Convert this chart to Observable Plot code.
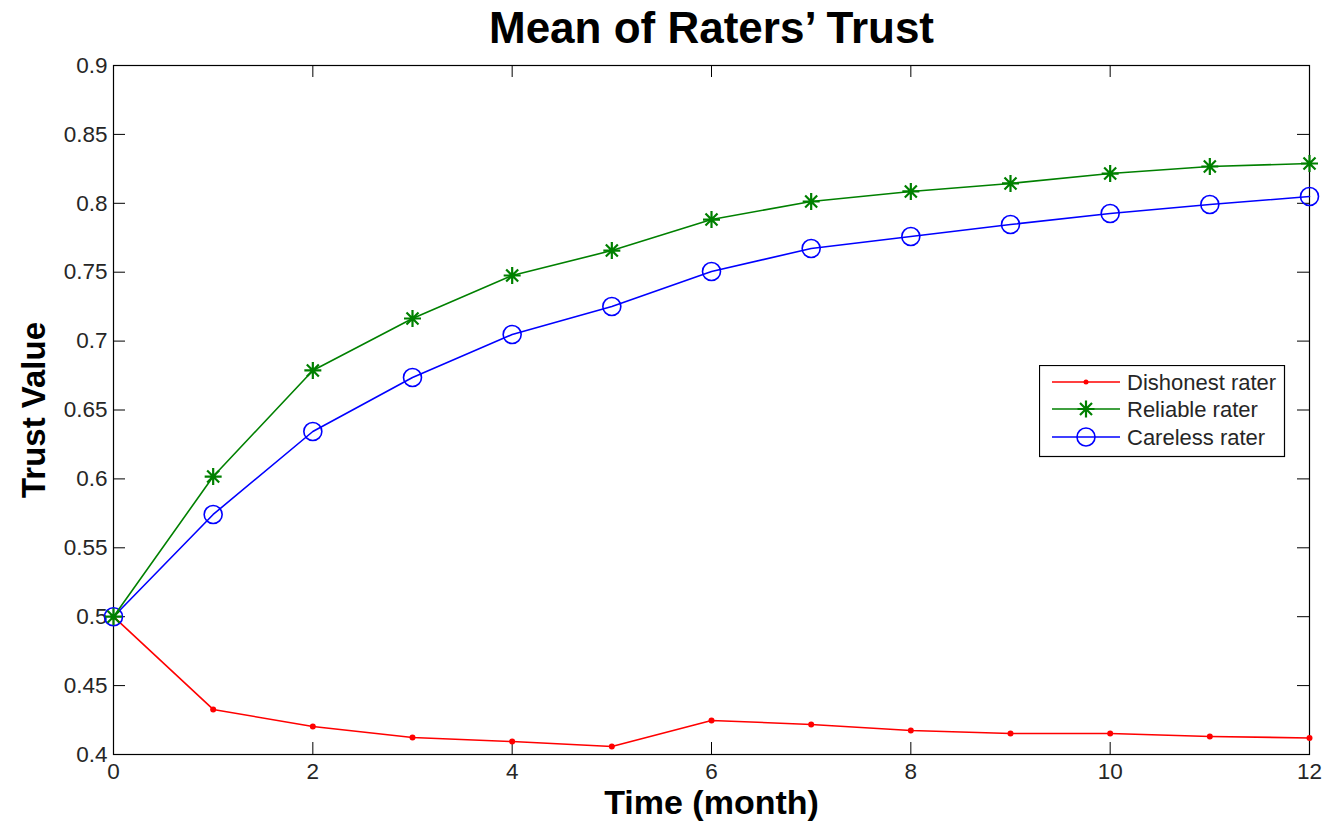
<!DOCTYPE html>
<html>
<head>
<meta charset="utf-8">
<script src="https://cdn.jsdelivr.net/npm/d3@7"></script>
<script src="https://cdn.jsdelivr.net/npm/@observablehq/plot@0.6"></script>
<style>
  html, body { margin: 0; padding: 0; background: #fff; }
  #wrap { position: relative; width: 1331px; height: 826px; font-family: "Liberation Sans", Arial, sans-serif; }
  #legend { position: absolute; left: 1039px; top: 365px; }
</style>
</head>
<body>
<div id="wrap"></div>
<script>
// ---- data ----
const months = [0, 1, 2, 3, 4, 5, 6, 7, 8, 9, 10, 11, 12];
const dishonest = [0.5, 0.4327, 0.4203, 0.4123, 0.4094, 0.4058, 0.4247, 0.4218, 0.4174, 0.4152, 0.4152, 0.4131, 0.4120];
const reliable  = [0.5, 0.6017, 0.6787, 0.7164, 0.7476, 0.7657, 0.7882, 0.8013, 0.8086, 0.8144, 0.8216, 0.8267, 0.8289];
const careless  = [0.5, 0.5742, 0.6344, 0.6736, 0.7048, 0.7251, 0.7505, 0.7672, 0.7759, 0.7846, 0.7926, 0.7991, 0.8049];
const seriesNames = ["Dishonest rater", "Reliable rater", "Careless rater"];
const seriesColors = ["#ff0000", "#008000", "#0000ff"];
const xTicks = [0, 2, 4, 6, 8, 10, 12];
const yTicks = [0.4, 0.45, 0.5, 0.55, 0.6, 0.65, 0.7, 0.75, 0.8, 0.85, 0.9];
const titleText = "Mean of Raters\u2019 Trust";
const xLabel = "Time (month)";
const yLabel = "Trust Value";

const toRows = (vals) => months.map((m, i) => ({month: m, value: vals[i]}));
const dRows = toRows(dishonest), rRows = toRows(reliable), cRows = toRows(careless);

// 8-ray asterisk (MATLAB style '*')
const asterisk8 = {
  draw(ctx, size) {
    const r = Math.sqrt(size / Math.PI);
    const d = r * Math.SQRT1_2;
    ctx.moveTo(0, -r); ctx.lineTo(0, r);
    ctx.moveTo(-r, 0); ctx.lineTo(r, 0);
    ctx.moveTo(-d, -d); ctx.lineTo(d, d);
    ctx.moveTo(-d, d); ctx.lineTo(d, -d);
  }
};

const W = 1331, H = 826, mL = 113, mR = 22, mT = 65, mB = 72;
const pw = W - mL - mR, ph = H - mT - mB, tk = 12;

const chart = Plot.plot({
  width: W, height: H,
  marginLeft: mL, marginRight: mR, marginTop: mT, marginBottom: mB,
  x: {domain: [0, 12]},
  y: {domain: [0.4, 0.9]},
  style: {fontFamily: "'Liberation Sans', Arial, sans-serif", background: "#fff", color: "#000"},
  marks: [
    Plot.axisX({ticks: xTicks, tickSize: 0, tickPadding: 9, fontSize: 22.5, label: null, tickFormat: d => String(d), fill: "#262626"}),
    Plot.axisY({ticks: yTicks, tickSize: 0, tickPadding: 6, fontSize: 22.5, label: null, tickFormat: d => String(d), fill: "#262626"}),
    Plot.tickX(xTicks, {x: d => d, insetTop: ph - tk, stroke: "#000"}),
    Plot.tickX(xTicks, {x: d => d, insetBottom: ph - tk, stroke: "#000"}),
    Plot.tickY(yTicks, {y: d => d, insetRight: pw - tk, stroke: "#000"}),
    Plot.tickY(yTicks, {y: d => d, insetLeft: pw - tk, stroke: "#000"}),
    Plot.frame({stroke: "#000", strokeWidth: 1.2}),
    Plot.line(dRows, {x: "month", y: "value", stroke: seriesColors[0], strokeWidth: 1.6}),
    Plot.dot(dRows, {x: "month", y: "value", r: 3, fill: seriesColors[0], stroke: "none"}),
    Plot.line(cRows, {x: "month", y: "value", stroke: seriesColors[2], strokeWidth: 1.6}),
    Plot.dot(cRows, {x: "month", y: "value", r: 9, fill: "none", stroke: seriesColors[2], strokeWidth: 1.6}),
    Plot.line(rRows, {x: "month", y: "value", stroke: seriesColors[1], strokeWidth: 1.6}),
    Plot.dot(rRows, {x: "month", y: "value", r: 8.5, symbol: asterisk8, fill: "none", stroke: seriesColors[1], strokeWidth: 2.2}),
    Plot.text([titleText], {text: d => d, frameAnchor: "top", lineAnchor: "middle", dy: -37, fontSize: 44, fontWeight: "bold", fill: "#000"}),
    Plot.text([xLabel], {text: d => d, frameAnchor: "bottom", lineAnchor: "middle", dy: 49, fontSize: 34, fontWeight: "bold", fill: "#000"}),
    Plot.text([yLabel], {text: d => d, frameAnchor: "left", textAnchor: "middle", lineAnchor: "middle", dx: -79, rotate: -90, fontSize: 33, fontWeight: "bold", fill: "#000"})
  ]
});
document.getElementById("wrap").appendChild(chart);

// ---- legend ----
const lg = d3.select("#wrap").append("svg").attr("id", "legend")
  .attr("width", 247).attr("height", 93)
  .style("font-family", "'Liberation Sans', Arial, sans-serif");
lg.append("rect").attr("x", 0.5).attr("y", 0.5).attr("width", 245).attr("height", 91)
  .attr("fill", "#fff").attr("stroke", "#000").attr("stroke-width", 1.2);
const rowY = [17, 44, 72];
seriesNames.forEach((name, i) => {
  const g = lg.append("g").attr("transform", `translate(0,${rowY[i]})`);
  g.append("line").attr("x1", 13).attr("x2", 81).attr("y1", 0).attr("y2", 0)
    .attr("stroke", seriesColors[i]).attr("stroke-width", 1.6);
  if (i === 0) {
    g.append("circle").attr("cx", 47).attr("cy", 0).attr("r", 2.5).attr("fill", seriesColors[i]);
  } else if (i === 1) {
    const r = 8.5, d = r * Math.SQRT1_2;
    g.append("path").attr("transform", "translate(47,0)")
      .attr("d", `M0,${-r}L0,${r}M${-r},0L${r},0M${-d},${-d}L${d},${d}M${-d},${d}L${d},${-d}`)
      .attr("stroke", seriesColors[i]).attr("stroke-width", 2.2).attr("fill", "none");
  } else {
    g.append("circle").attr("cx", 47).attr("cy", 0).attr("r", 9)
      .attr("fill", "none").attr("stroke", seriesColors[i]).attr("stroke-width", 1.6);
  }
  g.append("text").attr("x", 88).attr("y", 0).attr("dy", "0.35em")
    .attr("font-size", 22).attr("fill", "#262626").text(name);
});
</script>
</body>
</html>
